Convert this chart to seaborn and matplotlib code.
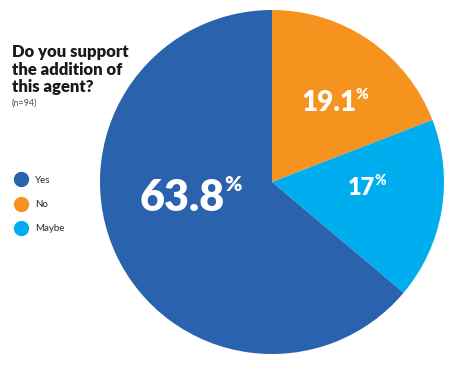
import matplotlib
matplotlib.use("Agg")
import matplotlib.pyplot as plt
from matplotlib.lines import Line2D
import seaborn as sns

sns.set_theme(style="white")
plt.rcParams["font.family"] = ["Lato", "DejaVu Sans"]

# data (legend order)
answers = ["Yes", "No", "Maybe"]
shares = [63.8, 19.1, 17.0]
labels = ["63.8", "19.1", "17"]
colors = {"Yes": "#2A62AD", "No": "#F6921E", "Maybe": "#00AEEF"}
n_resp = 94

# drawing order clockwise from 12 o'clock: No, Maybe, Yes
draw_order = ["No", "Maybe", "Yes"]

fig = plt.figure(figsize=(4.59, 3.71), dpi=100)
ax = fig.add_axes([100 / 459, 17 / 371, 344 / 459, 344 / 371])
vals = [shares[answers.index(a)] for a in draw_order]
ax.pie(vals, colors=[colors[a] for a in draw_order], startangle=90,
       counterclock=False, radius=1, wedgeprops=dict(linewidth=0))
ax.set_xlim(-1, 1)
ax.set_ylim(-1, 1)
ax.set_aspect("equal")

# percentage labels: (x, y in axes-data units, digit size, % size)
lab_pos = {"Yes": (-0.52, -0.17, 31, 15), "No": (0.33, 0.41, 20, 11),
           "Maybe": (0.52, -0.076, 17, 10)}
for a, lab in zip(answers, labels):
    x, y, fs, ps = lab_pos[a]
    t = ax.text(x, y, lab, color="white", fontsize=fs, fontweight="heavy",
                ha="center", va="baseline")
    fig.canvas.draw()
    bb = t.get_window_extent()
    ax.annotate("%", xy=(bb.x1, bb.y1), xycoords="figure pixels",
                xytext=(-0.5, 2), textcoords="offset points",
                color="white", fontsize=ps, fontweight="heavy",
                ha="left", va="top")

fig.text(12 / 459, 1 - 44 / 371, "Do you support\nthe addition of\nthis agent?",
         fontsize=12, fontweight="heavy", color="#1a1a1a", va="top", ha="left",
         linespacing=1.12)
fig.text(12 / 459, 1 - 99 / 371, f"(n={n_resp})", fontsize=6.5, color="#555555",
         va="top", ha="left")

handles = [Line2D([0], [0], marker="o", linestyle="", markersize=10,
                  markerfacecolor=colors[a], markeredgecolor=colors[a])
           for a in answers]
fig.legend(handles, answers, loc="upper left", bbox_to_anchor=(11 / 459, 1 - 172 / 371),
           frameon=False, fontsize=7, handletextpad=0.9, labelspacing=1.55,
           borderaxespad=0, handlelength=1.2)

fig.savefig("out.png", dpi=100)
